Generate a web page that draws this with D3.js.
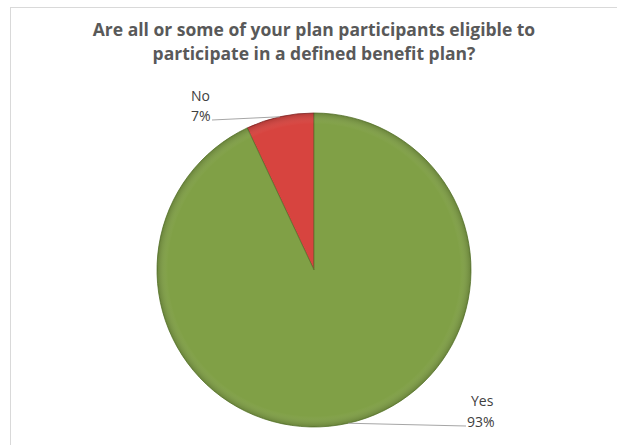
<!DOCTYPE html>
<html>
<head>
<meta charset="utf-8">
<script src="https://cdn.jsdelivr.net/npm/d3@7"></script>
<style>
  body { margin: 0; background: #fff; }
  text { font-family: "Open Sans", "Liberation Sans", sans-serif; }
</style>
</head>
<body>
<div id="chart"></div>
<script>
// data
var categories = ["No", "Yes"];
var values = [7, 93];
var labels = ["7%", "93%"];
var titleLines = ["Are all or some of your plan participants eligible to",
                  "participate in a defined benefit plan?"];

var svgWidth = 617, svgHeight = 445;
var cx = 314, cy = 270, radius = 157;

var colors = d3.scaleOrdinal()
  .domain(categories)
  .range(["#d7443f", "#80a046"]);
var edgeColors = d3.scaleOrdinal()
  .domain(categories)
  .range(["#8a2a28", "#5c7a2e"]);

var svg = d3.select("#chart").append("svg")
  .attr("width", svgWidth)
  .attr("height", svgHeight);

// frame
svg.append("rect")
  .attr("x", 10.5).attr("y", 7.5)
  .attr("width", 640).attr("height", 460)
  .attr("fill", "none")
  .attr("stroke", "#d9d9d9");

// title
svg.append("g").selectAll("text")
  .data(titleLines)
  .enter().append("text")
  .attr("x", 314)
  .attr("y", (d, i) => 36 + i * 24)
  .attr("text-anchor", "middle")
  .attr("font-size", "17.5px")
  .attr("font-weight", "bold")
  .attr("fill", "#595959")
  .text(d => d);

var data = categories.map((c, i) => ({ name: c, value: values[i], label: labels[i] }));

// No slice goes counterclockwise from 12 o'clock
var pie = d3.pie()
  .sort(null)
  .value(d => d.value)
  .startAngle(-2 * Math.PI * values[0] / 100)
  .endAngle(2 * Math.PI - 2 * Math.PI * values[0] / 100);

var arc = d3.arc().innerRadius(0).outerRadius(radius);

var defs = svg.append("defs");
var grad = defs.append("radialGradient")
  .attr("id", "shade")
  .attr("cx", "50%").attr("cy", "50%").attr("r", "50%");
grad.append("stop").attr("offset", "0.93").attr("stop-color", "#fff").attr("stop-opacity", 0);
grad.append("stop").attr("offset", "1").attr("stop-color", "#000").attr("stop-opacity", 0.18);

var g = svg.append("g").attr("transform", `translate(${cx}, ${cy})`);
var arcs = pie(data);

g.selectAll("path.slice")
  .data(arcs)
  .enter().append("path")
  .attr("class", "slice")
  .attr("d", arc)
  .attr("fill", d => colors(d.data.name))
  .attr("stroke", d => edgeColors(d.data.name))
  .attr("stroke-width", 0.8);

g.append("circle")
  .attr("r", radius)
  .attr("fill", "url(#shade)");

// leader lines and labels
var labelPos = {
  No:  { x: 191, y1: 101, y2: 121, lineTo: 212 },
  Yes: { x: 467, y1: 406, y2: 427, lineTo: 466 }
};

arcs.forEach(function(d) {
  var mid = (d.startAngle + d.endAngle) / 2;
  var px = cx + Math.sin(mid) * radius;
  var py = cy - Math.cos(mid) * radius;
  var p = labelPos[d.data.name];
  svg.append("line")
    .attr("x1", px).attr("y1", py)
    .attr("x2", p.lineTo).attr("y2", p.y2 - 1)
    .attr("stroke", "#a6a6a6")
    .attr("stroke-width", 1);
  svg.append("text")
    .attr("x", p.x + (d.data.name === "Yes" ? 4 : 0)).attr("y", p.y1)
    .attr("font-size", "14px")
    .attr("fill", "#404040")
    .text(d.data.name);
  svg.append("text")
    .attr("x", p.x).attr("y", p.y2)
    .attr("font-size", "14px")
    .attr("fill", "#404040")
    .text(d.data.label);
});
</script>
</body>
</html>
